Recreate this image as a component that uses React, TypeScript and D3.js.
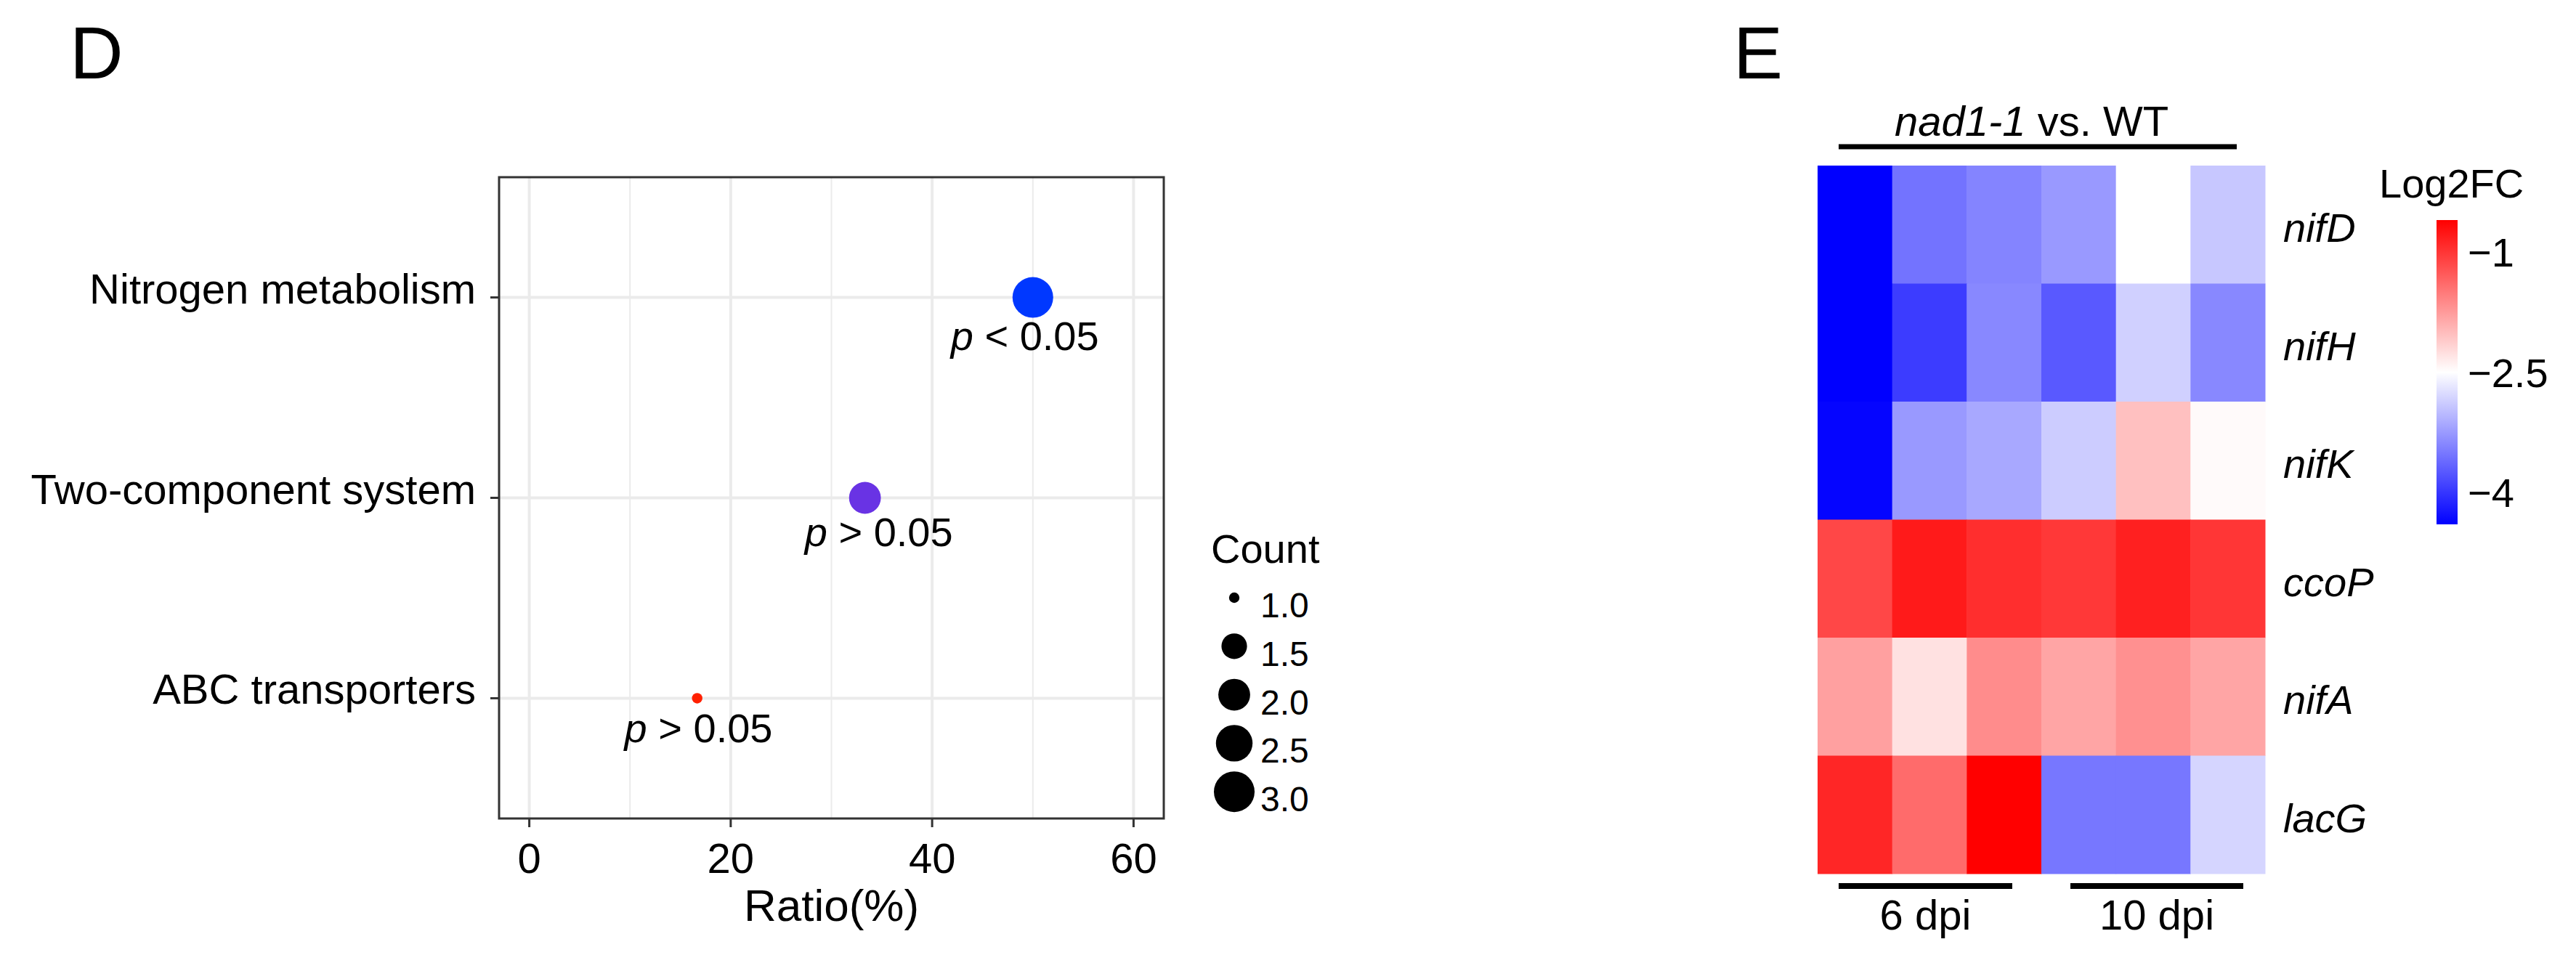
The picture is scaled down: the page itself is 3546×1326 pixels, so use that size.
import React from "react";
import * as d3 from "d3";

// ---------- Panel D data ----------
const pathways = ["Nitrogen metabolism", "Two-component system", "ABC transporters"];
const ratios = [50.0, 33.33, 16.67];
const counts = [3, 2, 1];
const pointColors = ["#0038FF", "#6933E4", "#FF2000"];
const pLabels = ["< 0.05", "> 0.05", "> 0.05"];
const pLabelRatio = [49.2, 34.7, 16.8];
const pLabelOffset = [0.264, 0.242, 0.22];
const xTicks = [0, 20, 40, 60];
const xMinorTicks = [10, 30, 50];
const countLegend = [1.0, 1.5, 2.0, 2.5, 3.0];

// ---------- Panel E data ----------
const genes = ["nifD", "nifH", "nifK", "ccoP", "nifA", "lacG"];
const samples = ["6dpi_1", "6dpi_2", "6dpi_3", "10dpi_1", "10dpi_2", "10dpi_3"];
const nifD = [-4.4, -3.54, -3.42, -3.26, -2.5, -2.92];
const nifH = [-4.4, -3.95, -3.39, -3.74, -2.85, -3.39];
const nifK = [-4.36, -3.26, -3.15, -2.88, -2.03, -2.46];
const ccoP = [-1.13, -0.79, -0.94, -1.02, -0.84, -1.0];
const nifA = [-1.79, -2.28, -1.64, -1.83, -1.67, -1.83];
const lacG = [-0.88, -1.4, -0.6, -3.51, -3.51, -2.81];
const log2fc = [nifD, nifH, nifK, ccoP, nifA, lacG];
const colorDomain = [-4.4, -2.5, -0.6];
const colorTicks = [-1, -2.5, -4];
const groups = ["6 dpi", "10 dpi"];

const FONT = "'Liberation Sans', Arial, Helvetica, sans-serif";

export default function App() {
  // Panel D scales
  const x = d3.scaleLinear().domain([-3, 63]).range([687, 1602]);
  const y = d3.scalePoint<string>().domain(pathways).range([244, 1127]).padding(0.6);
  const step = y.step();
  const rScale = d3.scaleSqrt().domain([0, 2]).range([7.2, 28]);
  const r = (c: number) => rScale(c - 1);
  const panelL = 687, panelR = 1602, panelT = 244, panelB = 1127;

  // Panel E scales
  const cx = d3.scaleBand<number>().domain(d3.range(samples.length)).range([2502, 3118]);
  const cy = d3.scaleBand<number>().domain(d3.range(genes.length)).range([228, 1203]);
  const color = d3.scaleLinear<string>().domain(colorDomain).range(["#0000FF", "#FFFFFF", "#FF0000"]).clamp(true);
  const cb = d3.scaleLinear().domain([colorDomain[0], colorDomain[2]]).range([722, 303]);
  const gradStops = d3.range(0, 1.0001, 0.05).map((t) => {
    const v = colorDomain[0] + t * (colorDomain[2] - colorDomain[0]);
    return { off: t, col: color(v) };
  });
  const fmt = (v: number) => (v < 0 ? "\u2212" + Math.abs(v) : String(v));

  const grpStart = [cx(0)!, cx(3)!];
  const grpEnd = [cx(2)! + cx.bandwidth(), cx(5)! + cx.bandwidth()];
  const grpBar = [
    [grpStart[0] + 29, grpEnd[0] - 40],
    [grpStart[1] + 40, grpEnd[1] - 30],
  ];

  return (
    <svg
      width={3546}
      height={1326}
      style={{ position: "absolute", left: 0, top: 0, background: "#fff" }}
      fontFamily={FONT}
    >
      <rect x={0} y={0} width={3546} height={1326} fill="#fff" />
      {/* ---------------- Panel D ---------------- */}
      <text x={96} y={108} fontSize={102}>D</text>

      {/* grid */}
      {xMinorTicks.map((t) => (
        <line key={"mn" + t} x1={x(t)} x2={x(t)} y1={panelT} y2={panelB} stroke="#EBEBEB" strokeWidth={2} />
      ))}
      {xTicks.map((t) => (
        <line key={"mj" + t} x1={x(t)} x2={x(t)} y1={panelT} y2={panelB} stroke="#EBEBEB" strokeWidth={4} />
      ))}
      {pathways.map((p) => (
        <line key={"hg" + p} x1={panelL} x2={panelR} y1={y(p)} y2={y(p)} stroke="#EBEBEB" strokeWidth={4} />
      ))}
      <rect x={panelL} y={panelT} width={panelR - panelL} height={panelB - panelT} fill="none" stroke="#333" strokeWidth={3} />

      {/* y axis */}
      {pathways.map((p) => (
        <g key={"ya" + p}>
          <line x1={panelL - 12} x2={panelL} y1={y(p)} y2={y(p)} stroke="#333" strokeWidth={3} />
          <text x={655} y={y(p)! + 8} fontSize={58} textAnchor="end" fill="#000">{p}</text>
        </g>
      ))}
      {/* x axis */}
      {xTicks.map((t) => (
        <g key={"xa" + t}>
          <line x1={x(t)} x2={x(t)} y1={panelB} y2={panelB + 12} stroke="#333" strokeWidth={3} />
          <text x={x(t)} y={1202} fontSize={58} textAnchor="middle" fill="#000">{t}</text>
        </g>
      ))}
      <text x={(panelL + panelR) / 2} y={1268} fontSize={62} textAnchor="middle">Ratio(%)</text>

      {/* points */}
      {pathways.map((p, i) => (
        <circle key={"pt" + p} cx={x(ratios[i])} cy={y(p)} r={r(counts[i])} fill={pointColors[i]} />
      ))}
      {pathways.map((p, i) => (
        <text key={"pl" + p} x={x(pLabelRatio[i])} y={y(p)! + pLabelOffset[i] * step} fontSize={56} textAnchor="middle">
          <tspan fontStyle="italic">p</tspan>
          <tspan>{" " + pLabels[i]}</tspan>
        </text>
      ))}

      {/* size legend */}
      <text x={1667} y={775} fontSize={56}>Count</text>
      {countLegend.map((c, i) => (
        <g key={"lg" + c}>
          <circle cx={1699} cy={823 + i * 66.8} r={r(c)} fill="#000" />
          <text x={1735} y={823 + i * 66.8 + 27} fontSize={48}>{c.toFixed(1)}</text>
        </g>
      ))}

      {/* ---------------- Panel E ---------------- */}
      <text x={2386} y={108} fontSize={102}>E</text>

      {log2fc.map((row, gi) =>
        row.map((v, si) => (
          <rect
            key={`c${gi}-${si}`}
            x={cx(si)}
            y={cy(gi)}
            width={cx.bandwidth() + 0.5}
            height={cy.bandwidth() + 0.5}
            fill={color(v)}
          />
        ))
      )}

      {/* top bracket */}
      <text x={2608} y={187} fontSize={58}>
        <tspan fontStyle="italic">nad1-1</tspan>
        <tspan>{" vs. WT"}</tspan>
      </text>
      <rect x={grpStart[0] + 29} y={198.5} width={grpEnd[1] - 39 - (grpStart[0] + 29)} height={7} fill="#000" />

      {/* bottom brackets */}
      {groups.map((g, i) => (
        <g key={"gb" + g}>
          <rect x={grpBar[i][0]} y={1216} width={grpBar[i][1] - grpBar[i][0]} height={8} fill="#000" />
          <text x={(grpBar[i][0] + grpBar[i][1]) / 2} y={1280} fontSize={58} textAnchor="middle">{g}</text>
        </g>
      ))}

      {/* gene labels */}
      {genes.map((g, gi) => (
        <text key={"gl" + g} x={3143} y={cy(gi)! + cy.bandwidth() / 2 + 24} fontSize={56} fontStyle="italic">{g}</text>
      ))}

      {/* color bar */}
      <defs>
        <linearGradient id="cbGrad" x1="0" y1="1" x2="0" y2="0">
          {gradStops.map((s, i) => (
            <stop key={i} offset={s.off} stopColor={s.col} />
          ))}
        </linearGradient>
      </defs>
      <text x={3275} y={272} fontSize={56}>Log2FC</text>
      <rect x={3354} y={cb(colorDomain[2])} width={29} height={cb(colorDomain[0]) - cb(colorDomain[2])} fill="url(#cbGrad)" />
      {colorTicks.map((t) => (
        <text key={"ct" + t} x={3397} y={cb(t) + 20} fontSize={56}>{fmt(t)}</text>
      ))}
    </svg>
  );
}
